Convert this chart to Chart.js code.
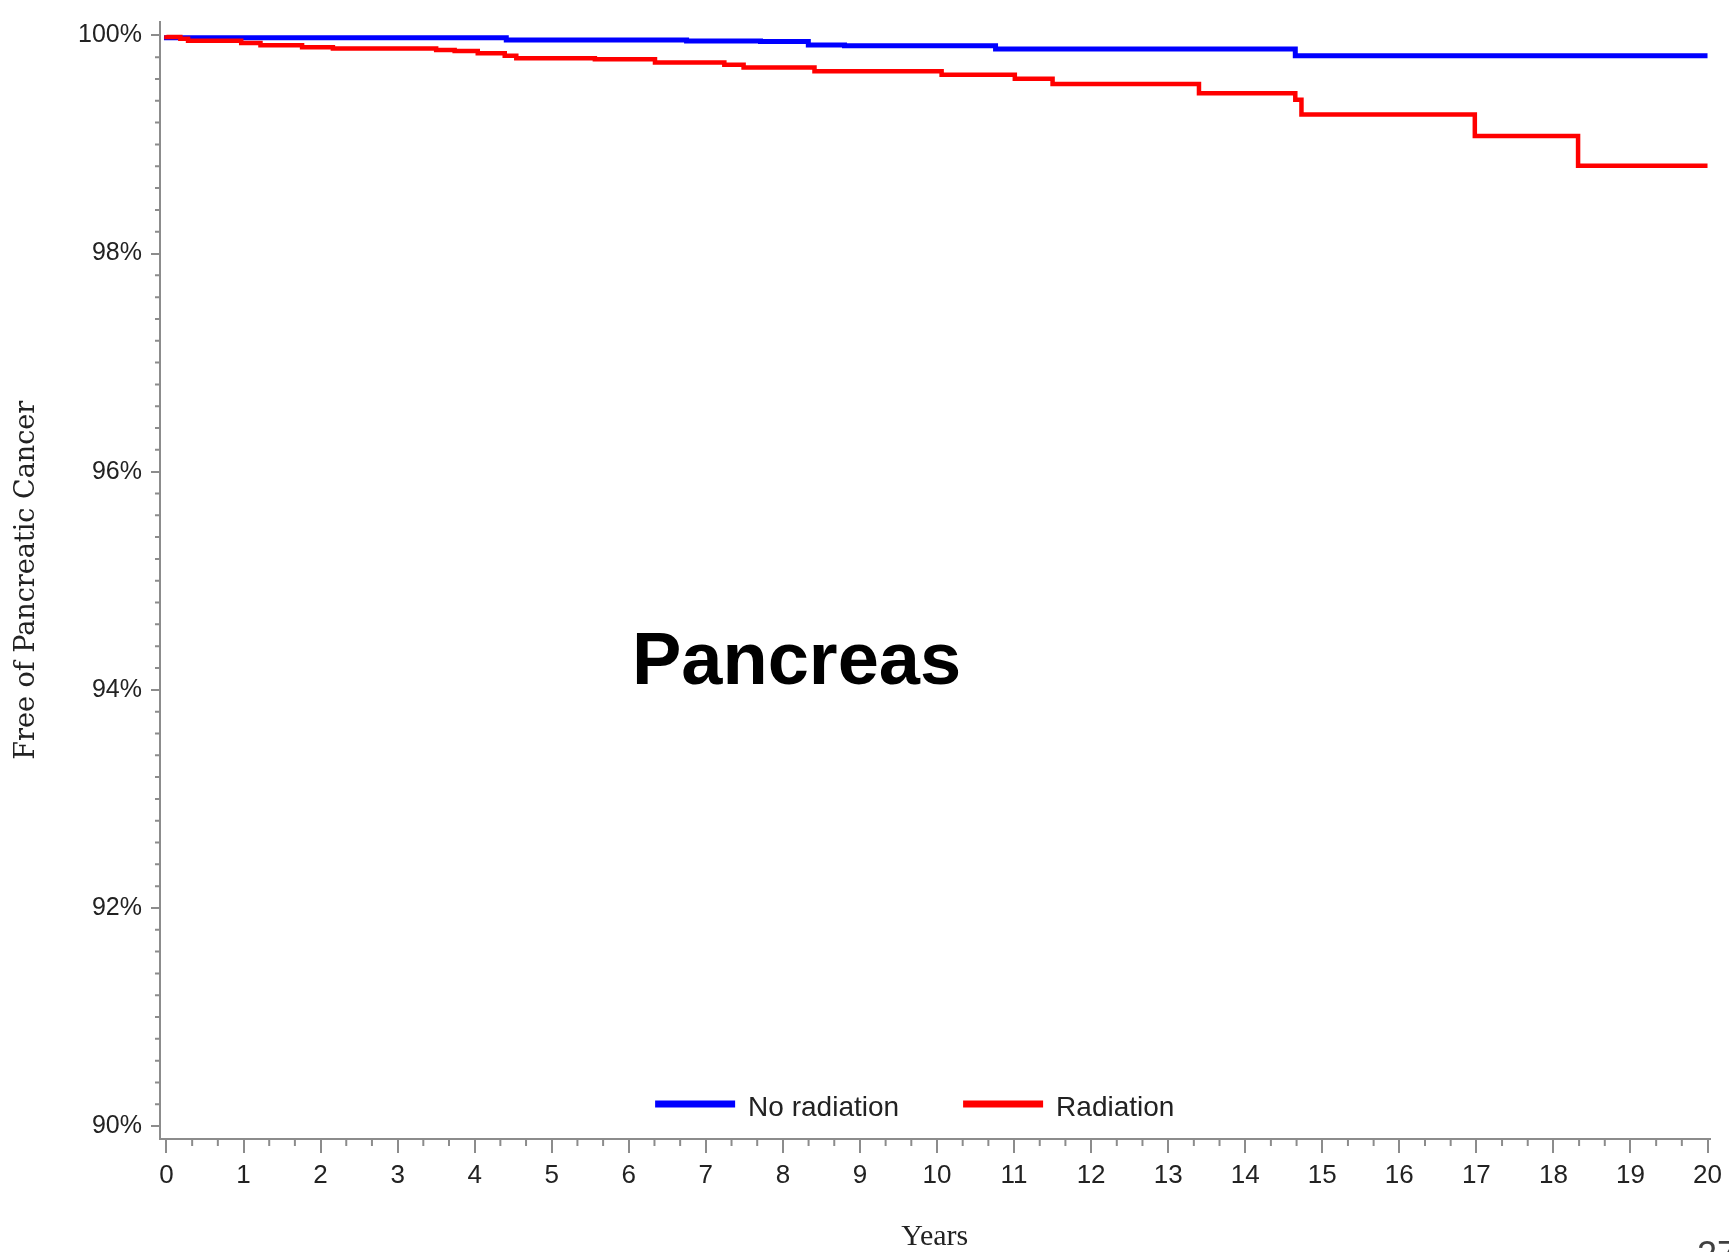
<!DOCTYPE html>
<html>
<head>
<meta charset="utf-8">
<title>Pancreas</title>
<script src="https://cdn.jsdelivr.net/npm/chart.js@4.4.1/dist/chart.umd.min.js"></script>
<style>
  html, body { margin: 0; padding: 0; background: #fff; }
  #wrap { width: 1729px; height: 1252px; }
</style>
</head>
<body>
<div id="wrap"><canvas id="kmChart" width="1729" height="1252"></canvas></div>
<script>
// Kaplan-Meier curves (years -> % free of pancreatic cancer)
var noRadTimes = [0, 4.41, 6.75, 7.71, 8.33, 8.80, 10.76, 14.65, 17.66, 20];
var noRadSurvival = [100, 99.979, 99.957, 99.948, 99.943, 99.912, 99.904, 99.875, 99.812, 99.812];

var radTimes = [0, 0.18, 0.28, 0.97, 1.22, 1.76, 2.16, 3.50, 3.74, 4.04, 4.39, 4.54, 5.56, 6.34, 7.24, 7.49, 8.41, 10.06, 11.01, 11.50, 13.40, 14.65, 14.73, 16.98, 18.32, 19.06, 20];
var radSurvival = [100, 99.985, 99.97, 99.95, 99.93, 99.91, 99.89, 99.88, 99.866, 99.857, 99.836, 99.814, 99.791, 99.782, 99.752, 99.730, 99.706, 99.670, 99.639, 99.602, 99.554, 99.47, 99.41, 99.275, 99.078, 98.805, 98.805];

var seriesLabels = ['No radiation', 'Radiation'];
var xTickValues = [0, 1, 2, 3, 4, 5, 6, 7, 8, 9, 10, 11, 12, 13, 14, 15, 16, 17, 18, 19, 20];
var yTickValues = [90, 92, 94, 96, 98, 100];

var axisColor = '#8c8c8c';
var textColor = '#222';

function toPoints(times, values) {
  return times.map(function (t, i) { return { x: t, y: values[i] }; });
}

// minor tick marks (1/3 year on x, 0.2% on y)
var minorTicks = {
  id: 'minorTicks',
  afterDraw: function (chart) {
    var ctx = chart.ctx, xs = chart.scales.x, ys = chart.scales.y;
    ctx.save();
    ctx.strokeStyle = axisColor;
    ctx.lineWidth = 2;
    ctx.beginPath();
    for (var i = 0; i <= 60; i++) {
      if (i % 3 === 0) continue;
      var px = xs.getPixelForValue(i / 3);
      ctx.moveTo(px, xs.top);
      ctx.lineTo(px, xs.top + 7);
    }
    for (var j = 0; j <= 50; j++) {
      if (j % 10 === 0) continue;
      var py = ys.getPixelForValue(90 + j * 0.2);
      ctx.moveTo(ys.right - 5, py);
      ctx.lineTo(ys.right, py);
    }
    ctx.stroke();
    ctx.restore();
  }
};

// legend inside the plot + slide texts
var extras = {
  id: 'extras',
  afterDraw: function (chart) {
    var ctx = chart.ctx, area = chart.chartArea;
    ctx.save();

    // legend
    ctx.font = '28px "Liberation Sans", Arial, sans-serif';
    ctx.textBaseline = 'middle';
    ctx.textAlign = 'left';
    var items = [chart.data.datasets[1], chart.data.datasets[0]];
    var lineLen = 80, gap = 13, itemGap = 64;
    var total = 0;
    items.forEach(function (ds, k) {
      total += lineLen + gap + ctx.measureText(ds.label).width + (k ? 0 : itemGap);
    });
    var cx = (area.left + area.right) / 2 - 20;
    var x = cx - total / 2;
    var ly = area.bottom - 35;
    items.forEach(function (ds) {
      ctx.strokeStyle = ds.borderColor;
      ctx.lineWidth = 7;
      ctx.beginPath();
      ctx.moveTo(x, ly);
      ctx.lineTo(x + lineLen, ly);
      ctx.stroke();
      x += lineLen + gap;
      ctx.fillStyle = textColor;
      ctx.fillText(ds.label, x, ly + 4);
      x += ctx.measureText(ds.label).width + itemGap;
    });

    // big label
    ctx.font = 'bold 74px "Liberation Sans", Arial, sans-serif';
    ctx.fillStyle = '#000';
    ctx.textBaseline = 'alphabetic';
    ctx.fillText('Pancreas', 632, 684);

    // slide number, cut by the bottom edge
    ctx.font = '36px "Liberation Sans", Arial, sans-serif';
    ctx.fillStyle = '#404040';
    ctx.textBaseline = 'top';
    ctx.fillText('27', 1697, 1239);
    ctx.restore();
  }
};

var config = {
  type: 'line',
  data: {
    datasets: [{
      label: seriesLabels[1],
      data: toPoints(radTimes, radSurvival),
      borderColor: '#ff0000',
      borderWidth: 4.5,
      stepped: 'after',
      pointRadius: 0,
      fill: false
    }, {
      label: seriesLabels[0],
      data: toPoints(noRadTimes, noRadSurvival),
      borderColor: '#0000ff',
      borderWidth: 5,
      stepped: 'after',
      pointRadius: 0,
      fill: false
    }]
  },
  options: {
    responsive: false,
    animation: false,
    layout: { padding: { top: 13, right: 15, left: 0, bottom: 0 } },
    plugins: {
      legend: { display: false },
      tooltip: { enabled: false }
    },
    scales: {
      x: {
        type: 'linear',
        position: 'bottom',
        min: -0.084,
        max: 20.026,
        afterBuildTicks: function (scale) {
          scale.ticks = xTickValues.map(function (v) { return { value: v }; });
        },
        afterFit: function (scale) { scale.height = 113; },
        ticks: {
          autoSkip: false,
          maxRotation: 0,
          padding: 7,
          color: textColor,
          font: { family: '"Liberation Sans", Arial, sans-serif', size: 26 },
          callback: function (v) { return String(v); }
        },
        grid: { drawOnChartArea: false, color: axisColor, lineWidth: 2, tickLength: 14 },
        border: { display: true, color: axisColor, width: 2 },
        title: {
          display: true,
          text: 'Years',
          color: textColor,
          padding: { top: 0, bottom: 0 },
          font: { family: '"Liberation Serif", "Times New Roman", serif', size: 30, lineHeight: 1 }
        }
      },
      y: {
        min: 89.882,
        max: 100.127,
        afterBuildTicks: function (scale) {
          scale.ticks = yTickValues.map(function (v) { return { value: v }; });
        },
        afterFit: function (scale) { scale.width = 160; },
        ticks: {
          padding: 9,
          color: textColor,
          font: { family: '"Liberation Sans", Arial, sans-serif', size: 25, lineHeight: 1 },
          callback: function (v) { return v + '%'; }
        },
        grid: { drawOnChartArea: false, color: axisColor, lineWidth: 2, tickLength: 9 },
        border: { display: true, color: axisColor, width: 2 },
        title: {
          display: true,
          text: 'Free of Pancreatic Cancer',
          color: textColor,
          padding: { top: 11, bottom: 0 },
          font: { family: '"DejaVu Serif", serif', size: 27 }
        }
      }
    }
  },
  plugins: [minorTicks, extras]
};

var myChart = new Chart(document.getElementById('kmChart'), config);
</script>
</body>
</html>
